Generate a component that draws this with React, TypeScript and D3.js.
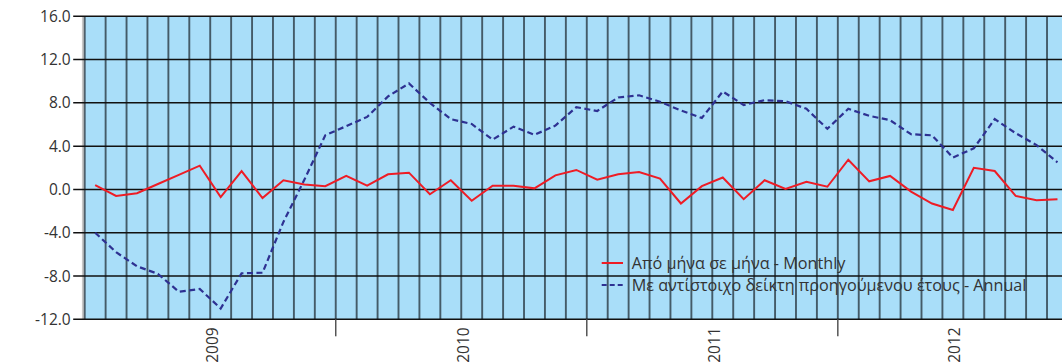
import React from "react";
import * as d3 from "d3";

const years = [2009, 2010, 2011, 2012];
const monthsPerYear = [12, 12, 12, 11];
const yTicks = [16, 12, 8, 4, 0, -4, -8, -12];
const seriesNames = ["Από μήνα σε μήνα - Monthly", "Με αντίστοιχο δείκτη προηγούμενου έτους - Annual"];

const monthly = [0.4, -0.6, -0.35, 0.5, 1.35, 2.2, -0.7, 1.7, -0.8, 0.85, 0.45, 0.3,
  1.25, 0.35, 1.4, 1.55, -0.45, 0.85, -1.05, 0.35, 0.35, 0.1, 1.3, 1.8,
  0.9, 1.4, 1.6, 1.0, -1.3, 0.3, 1.1, -0.9, 0.85, 0.05, 0.7, 0.25,
  2.75, 0.75, 1.25, -0.2, -1.3, -1.9, 2.0, 1.7, -0.6, -1.0, -0.9];
const annual = [-4.0, -5.8, -7.1, -7.8, -9.45, -9.2, -11.0, -7.75, -7.7, -3.0, 0.9, 5.0,
  5.85, 6.7, 8.6, 9.8, 8.0, 6.5, 6.05, 4.6, 5.8, 5.05, 5.9, 7.6,
  7.25, 8.5, 8.7, 8.1, 7.3, 6.6, 9.05, 7.8, 8.25, 8.15, 7.45, 5.6,
  7.45, 6.8, 6.4, 5.1, 5.0, 2.95, 3.8, 6.5, 5.2, 4.1, 2.5];

const months: string[] = [];
years.forEach((y, yi) => {
  for (let m = 1; m <= monthsPerYear[yi]; m++) months.push(`${y}-${m}`);
});

const W = 1062, H = 362;
const left = 84.7, top = 16.3, bottom = 319.3;
const bandW = 20.92;

export default function App() {
  const x = d3.scaleBand<string>().domain(months).range([left, left + months.length * bandW]).padding(0);
  const y = d3.scaleLinear().domain([-12, 16]).range([bottom, top]);
  const cx = (i: number) => (x(months[i]) as number) + x.bandwidth() / 2;
  const line = d3.line<number>().x((_, i) => cx(i)).y((d) => y(d));
  const right = left + months.length * bandW;
  const font = "'Open Sans', sans-serif";

  let acc = 0;
  const yearInfo = years.map((yr, yi) => {
    const start = acc;
    acc += monthsPerYear[yi];
    return { yr, start, end: acc };
  });

  return (
    <div style={{ position: "absolute", left: 0, top: 0 }}>
      <svg width={W} height={H} style={{ display: "block" }}>
        <rect x={0} y={0} width={W} height={H} fill="#fff" />
        <rect x={left} y={top} width={right - left} height={bottom - top} fill="#a9def9" />
        <line x1={left - 1.8} x2={left - 1.8} y1={top} y2={bottom} stroke="#c8c8c8" strokeWidth={2} />
        {months.map((m) => (
          <line key={m} x1={x(m)} x2={x(m)} y1={top} y2={bottom} stroke="#2a3a44" strokeOpacity={0.8} strokeWidth={1.9} />
        ))}
        {yTicks.map((t) => (
          <g key={t}>
            <line x1={left - 11.5} x2={W} y1={y(t)} y2={y(t)} stroke="#111" strokeWidth={1.5} />
            <text x={left - 14} y={y(t)} dy="0.36em" textAnchor="end" fontFamily={font} fontSize={15.5} fill="#333">
              {t.toFixed(1)}
            </text>
          </g>
        ))}
        {yearInfo.slice(1).map((d) => (
          <line key={"tk" + d.yr} x1={x(months[d.start])} x2={x(months[d.start])} y1={bottom} y2={bottom + 17} stroke="#555" strokeWidth={1.5} />
        ))}
        {yearInfo.map((d) => {
          const mid = ((x(months[d.start]) as number) + (x(months[d.end - 1]) as number) + bandW) / 2 + 2;
          return (
            <text key={d.yr} transform={`translate(${mid},${bottom + 8}) rotate(-90)`} textAnchor="end" dy="0.36em" fontFamily={font} fontSize={15.5} fill="#333">
              {d.yr}
            </text>
          );
        })}
        <path d={line(annual) || ""} fill="none" stroke="#2e3192" strokeWidth={2.2} strokeDasharray="6,3.5" />
        <path d={line(monthly) || ""} fill="none" stroke="#ee1c25" strokeWidth={2} />
        <g fontFamily={font} fontSize={16.2} fill="#333">
          <line x1={601.7} x2={623} y1={263} y2={263} stroke="#ee1c25" strokeWidth={2} />
          <text x={631.7} y={263} dy="0.36em">{seriesNames[0]}</text>
          <line x1={601.7} x2={623} y1={285} y2={285} stroke="#2e3192" strokeWidth={2} strokeDasharray="5,3" />
          <text x={631.7} y={285} dy="0.36em">{seriesNames[1]}</text>
        </g>
      </svg>
    </div>
  );
}
